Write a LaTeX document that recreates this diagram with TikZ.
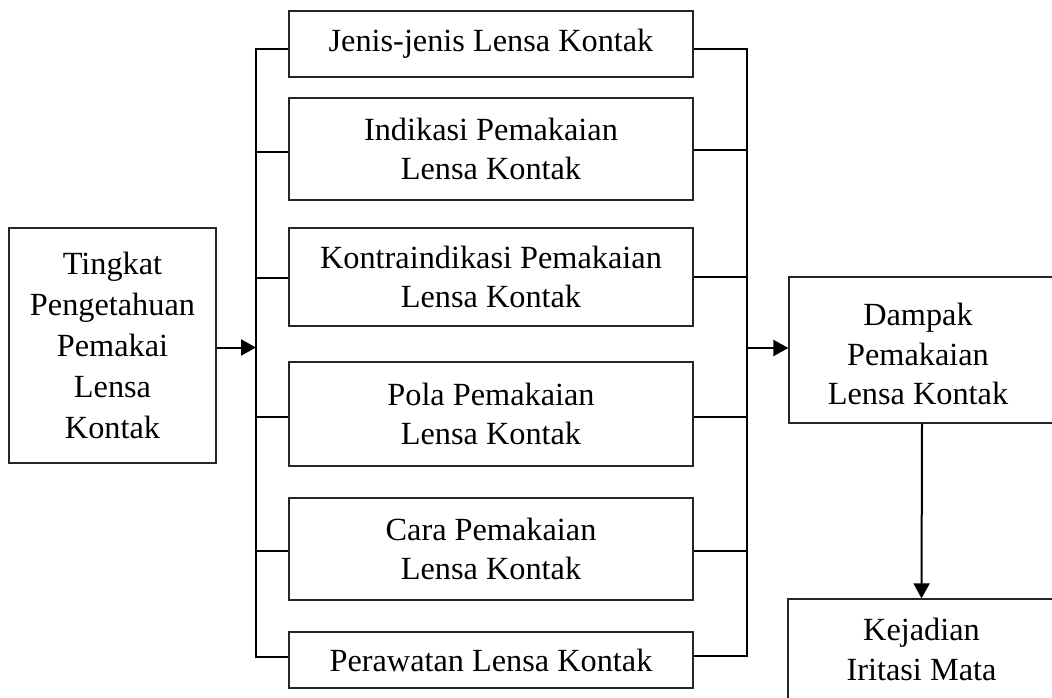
\documentclass[tikz,border=0pt]{standalone}
\usepackage{fontspec}
\setmainfont{Liberation Serif}
\usetikzlibrary{arrows.meta}
\begin{document}
\begin{tikzpicture}[x=1pt,y=-1pt,
  box/.style={draw=black!85, line width=1.3pt, inner sep=0pt, align=center,
    font=\fontsize{32.3}{39.5}\selectfont},
  txt/.style={inner sep=0pt, align=center, font=\fontsize{32.3}{39.5}\selectfont},
  midbox/.style={box, minimum width=404pt},
  conn/.style={line width=2pt, black},
  arr/.style={conn, -{Triangle[length=15pt,width=16pt]}}]
\useasboundingbox (0,0) rectangle (1052,698);
\fill[white] (0,0) rectangle (1052,698);

% left box
\node[box, minimum width=207pt, minimum height=235pt, font=\fontsize{32.3}{41}\selectfont] (L) at (112.5,345.5)
  {Tingkat\\Pengetahuan\\Pemakai\\Lensa\\Kontak};

% middle boxes
\node[midbox, minimum height=66pt]  (B1) at (491,44)  {Jenis-jenis Lensa Kontak};
\node[midbox, minimum height=102pt] (B2) at (491,149) {Indikasi Pemakaian\\Lensa Kontak};
\node[midbox, minimum height=98pt]  (B3) at (491,277) {Kontraindikasi Pemakaian\\Lensa Kontak};
\node[midbox, minimum height=104pt] (B4) at (491,414) {Pola Pemakaian\\Lensa Kontak};
\node[midbox, minimum height=102pt] (B5) at (491,549) {Cara Pemakaian\\Lensa Kontak};
\node[midbox, minimum height=56pt]  (B6) at (491,660) {Perawatan Lensa Kontak};

% right boxes
\node[box, minimum width=266pt, minimum height=146pt] (D) at (922,350) {};
\node[txt] (DT) at (918,354) {Dampak\\Pemakaian\\Lensa Kontak};
\node[box, minimum width=267pt, minimum height=101pt] (K) at (921.5,649.5)
  {Kejadian\\Iritasi Mata};

% bracket coordinates
\coordinate (LT) at (256,0);
\coordinate (RT) at (747,0);
\coordinate (P1) at ([yshift=-5pt]B1.west);
\coordinate (P6) at ([yshift=3pt]B6.west);
\coordinate (Q1) at ([yshift=-5pt]B1.east);
\coordinate (Q6) at ([yshift=4pt]B6.east);

% left bracket
\draw[conn] (P1) -- (P1 -| LT) -- (P6 -| LT) -- (P6);
\draw[conn] ([yshift=-3pt]B2.west) -- ([yshift=-3pt]B2.west -| LT);
\draw[conn] ([yshift=-1pt]B3.west) -- ([yshift=-1pt]B3.west -| LT);
\draw[conn] ([yshift=-3pt]B4.west) -- ([yshift=-3pt]B4.west -| LT);
\draw[conn] ([yshift=-2pt]B5.west) -- ([yshift=-2pt]B5.west -| LT);

% right bracket
\draw[conn] (Q1) -- (Q1 -| RT) -- (Q6 -| RT) -- (Q6);
\draw[conn] ([yshift=-1pt]B2.east) -- ([yshift=-1pt]B2.east -| RT);
\draw[conn] (B3.east) -- (B3.east -| RT);
\draw[conn] ([yshift=-3pt]B4.east) -- ([yshift=-3pt]B4.east -| RT);
\draw[conn] ([yshift=-2pt]B5.east) -- ([yshift=-2pt]B5.east -| RT);

% arrows
\draw[arr] ([yshift=-2pt]L.east) -- ([yshift=-2pt]L.east -| LT);
\coordinate (RA) at ([yshift=2pt]D.west -| RT);
\draw[arr] (RA) -- (RA -| D.west);
\draw[arr] (D.south) -- (K.north);
\end{tikzpicture}
\end{document}
